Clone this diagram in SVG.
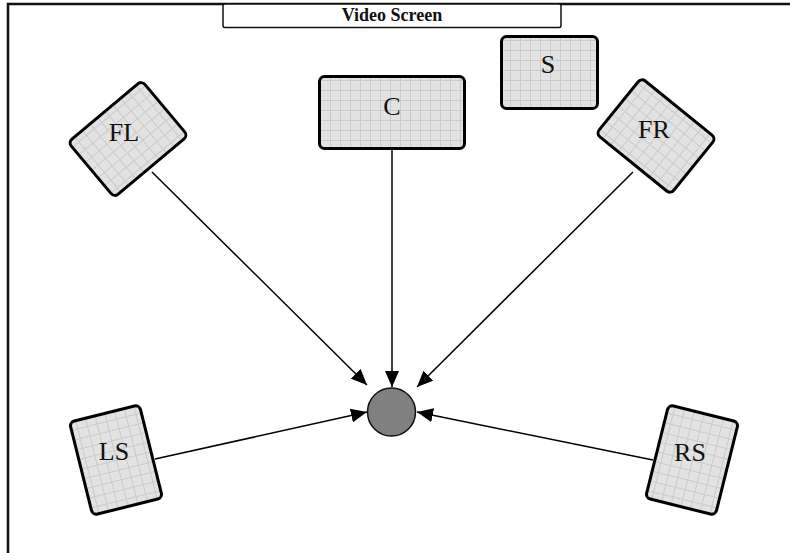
<svg xmlns="http://www.w3.org/2000/svg" width="790" height="553" viewBox="0 0 790 553">
<style>
.spk{fill:url(#grid);stroke:#000;stroke-width:3;}
.lbl{font-family:"Liberation Serif","Times New Roman",serif;font-size:26px;fill:#111;text-anchor:middle;}
.con{stroke:#000;stroke-width:1.5;fill:none;marker-end:url(#arr);}
</style>
<defs>
<pattern id="grid" patternUnits="userSpaceOnUse" width="10" height="10">
<rect width="10" height="10" fill="#e2e2e2"/>
<path d="M0 0.5H10M0.5 0V10" stroke="#cacaca" stroke-width="1"/>
</pattern>
<marker id="arr" viewBox="0 0 16 14" refX="16" refY="7" markerWidth="16" markerHeight="14" markerUnits="userSpaceOnUse" orient="auto">
<path d="M0 0L16 7L0 14Z" fill="#000"/>
</marker>
</defs>
<rect width="790" height="553" fill="#fff"/>
<g id="frame">
<path d="M8 553V4H790" fill="none" stroke="#111" stroke-width="2.5"/>
</g>
<g id="screen">
<rect x="223" y="4" width="338" height="23.5" rx="2" fill="#fff" stroke="#111" stroke-width="1.5"/>
<text x="392" y="21" font-family="Liberation Serif, Times New Roman, serif" font-size="18" font-weight="bold" text-anchor="middle" fill="#111">Video Screen</text>
</g>
<g id="connectors">
<line class="con" x1="392" y1="148" x2="392" y2="387"/>
<line class="con" x1="152" y1="172" x2="367" y2="385"/>
<line class="con" x1="633" y1="172" x2="417" y2="387"/>
<line class="con" x1="155" y1="459" x2="367" y2="412"/>
<line class="con" x1="653" y1="460" x2="417" y2="412"/>
</g>
<g id="C">
<rect class="spk" x="319.5" y="76.5" width="145" height="72" rx="5"/>
<text class="lbl" x="392" y="115">C</text>
</g>
<g id="S">
<rect class="spk" x="501.5" y="36.5" width="96" height="72" rx="5"/>
<text class="lbl" x="548" y="73">S</text>
</g>
<g id="FL">
<g transform="translate(128,139) rotate(-40)"><rect class="spk" x="-48" y="-36" width="96" height="72" rx="5"/></g>
<text class="lbl" x="124" y="141">FL</text>
</g>
<g id="FR">
<g transform="translate(656,136) rotate(39)"><rect class="spk" x="-48" y="-36" width="96" height="72" rx="5"/></g>
<text class="lbl" x="654" y="138">FR</text>
</g>
<g id="LS">
<g transform="translate(116,460) rotate(-14)"><rect class="spk" x="-36" y="-48" width="72" height="96" rx="5"/></g>
<text class="lbl" x="114" y="460">LS</text>
</g>
<g id="RS">
<g transform="translate(692,460) rotate(14)"><rect class="spk" x="-36" y="-48" width="72" height="96" rx="5"/></g>
<text class="lbl" x="690" y="461">RS</text>
</g>
<g id="listener">
<circle cx="391.5" cy="412" r="24" fill="#808080" stroke="#111" stroke-width="1.5"/>
</g>
</svg>
